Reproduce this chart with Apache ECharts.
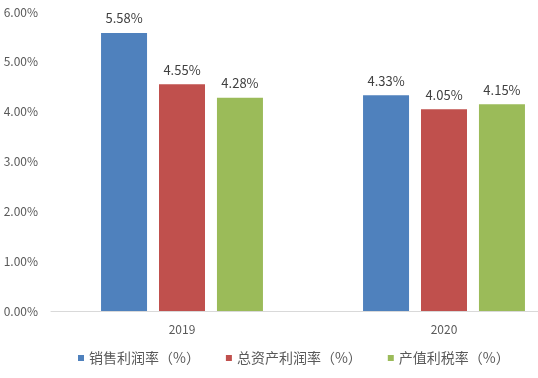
<!DOCTYPE html>
<html><head><meta charset="utf-8">
<script src="https://cdn.jsdelivr.net/npm/echarts@6/dist/echarts.min.js"></script>
<style>html,body{margin:0;padding:0;background:#fff;overflow:hidden;width:538px;height:378px}#c{width:575px;height:378px}</style>
</head><body><div id="c"></div>
<script>
const categories = ['2019', '2020'];
const seriesNames = ['销售利润率（%）', '总资产利润率（%）', '产值利税率（%）'];
const salesMargin = [5.58, 4.33];
const assetMargin = [4.55, 4.05];
const taxRate = [4.28, 4.15];
const colors = ['#4F81BD', '#C0504D', '#9BBB59'];
const FONT = '"Noto Sans CJK SC", "Noto Sans", sans-serif';
const chart = echarts.init(document.getElementById('c'));
const values = [salesMargin, assetMargin, taxRate];
chart.setOption({
  animation: false,
  textStyle: { fontFamily: FONT },
  grid: { left: 51, right: 0, top: 12, bottom: 67 },
  legend: {
    top: 351, left: 78, padding: 0,
    icon: 'rect', itemWidth: 6, itemHeight: 6, itemGap: 26,
    textStyle: { fontSize: 14, color: '#595959', fontFamily: FONT },
    data: seriesNames
  },
  xAxis: {
    type: 'category', data: categories,
    axisLine: { lineStyle: { color: '#D9D9D9', width: 1 } },
    axisTick: { show: false },
    axisLabel: { color: '#595959', fontSize: 12, margin: 12 }
  },
  yAxis: {
    type: 'value', min: 0, max: 6, interval: 1,
    splitLine: { show: false },
    axisLine: { show: false }, axisTick: { show: false },
    axisLabel: { color: '#595959', fontSize: 12, margin: 13, formatter: v => v.toFixed(2) + '%' }
  },
  series: seriesNames.map((n, i) => ({
    name: n, type: 'bar', data: values[i], barWidth: 46, barGap: '26%',
    itemStyle: { color: colors[i] },
    label: { show: true, position: 'top', distance: 8, color: '#404040', fontSize: 13,
      formatter: p => p.value.toFixed(2) + '%' }
  }))
});
</script></body></html>
